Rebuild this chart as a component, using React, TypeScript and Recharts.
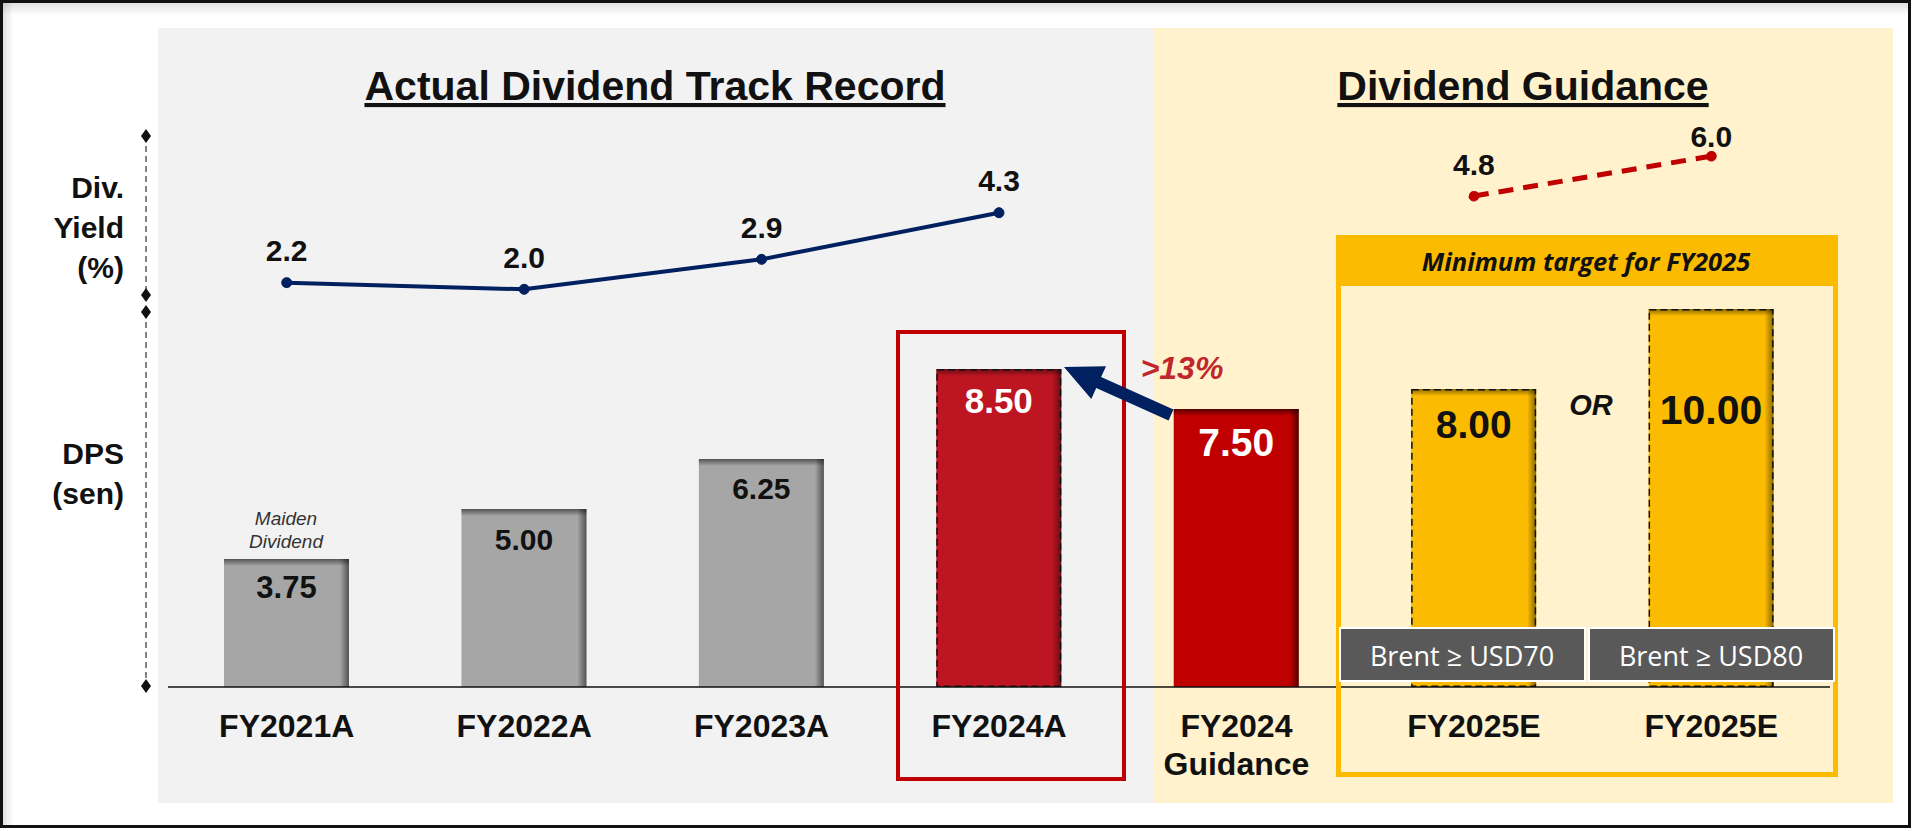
import React from "react";
import {
  ComposedChart,
  Bar,
  Line,
  XAxis,
  YAxis,
  LabelList,
} from "recharts";

const categories = [
  "FY2021A",
  "FY2022A",
  "FY2023A",
  "FY2024A",
  "FY2024\nGuidance",
  "FY2025E",
  "FY2025E",
];
const dps = [3.75, 5.0, 6.25, 8.5, 7.5, 8.0, 10.0];
const yieldActual = [2.2, 2.0, 2.9, 4.3, null, null, null];
const yieldGuidance = [null, null, null, null, null, 4.8, 6.0];

const data = categories.map((c, i) => ({
  id: `c${i}`,
  label: c,
  dps: dps[i],
  yld: yieldActual[i],
  yldG: yieldGuidance[i],
}));

const FONT = "'Liberation Sans', Arial, Helvetica, sans-serif";
const CALIBRI = "'Open Sans', 'Noto Sans', sans-serif";
const NAVY = "#002060";
const RED = "#c00000";
const GOLD = "#fbbb00";

// look of each bar (same order as categories)
const barStyles = [
  { fill: "#a6a6a6", shade: 0.5, dashed: false, text: "#111", size: 31, dy: 28 },
  { fill: "#a6a6a6", shade: 0.5, dashed: false, text: "#111", size: 30, dy: 30 },
  { fill: "#a6a6a6", shade: 0.5, dashed: false, text: "#111", size: 30, dy: 29 },
  { fill: "#bd1622", shade: 0.45, dashed: true, text: "#fff", size: 35, dy: 31 },
  { fill: "#c00000", shade: 0.55, dashed: false, text: "#fff", size: 39, dy: 33 },
  { fill: GOLD, shade: 0.45, dashed: true, text: "#111", size: 39, dy: 35 },
  { fill: GOLD, shade: 0.45, dashed: true, text: "#111", size: 41, dy: 101 },
];

const BarShape = (props: any) => {
  const { x, y, width, height, index, payload } = props;
  const s = barStyles[index];
  const id = `bs${index}`;
  return (
    <g>
      <defs>
        <linearGradient id={`${id}r`} x1="0" y1="0" x2="1" y2="0">
          <stop offset="0" stopColor="#000" stopOpacity={0} />
          <stop offset="1" stopColor="#000" stopOpacity={s.shade} />
        </linearGradient>
        <linearGradient id={`${id}t`} x1="0" y1="0" x2="0" y2="1">
          <stop offset="0" stopColor="#000" stopOpacity={s.shade} />
          <stop offset="1" stopColor="#000" stopOpacity={0} />
        </linearGradient>
      </defs>
      <rect x={x} y={y} width={width} height={height} fill={s.fill} />
      <rect x={x + width - 9} y={y} width={9} height={height} fill={`url(#${id}r)`} />
      <rect x={x} y={y} width={width} height={7} fill={`url(#${id}t)`} />
      {s.dashed && (
        <rect
          x={x + 0.75}
          y={y + 0.75}
          width={width - 1.5}
          height={height - 1.5}
          fill="none"
          stroke="#111"
          strokeWidth={1.5}
          strokeDasharray="7 4"
        />
      )}
      <text
        x={x + width / 2}
        y={y + s.dy}
        textAnchor="middle"
        dominantBaseline="central"
        fontFamily={FONT}
        fontWeight="bold"
        fontSize={s.size}
        fill={s.text}
      >
        {payload.dps.toFixed(2)}
      </text>
    </g>
  );
};

const YieldLabel = (props: any) => {
  const { x, y, value, index } = props;
  if (value == null || x == null) return null;
  const dy = index === 6 ? 20 : 32;
  return (
    <text
      x={x}
      y={y - dy}
      textAnchor="middle"
      dominantBaseline="central"
      fontFamily={FONT}
      fontWeight="bold"
      fontSize={30}
      fill="#111"
    >
      {Number(value).toFixed(1)}
    </text>
  );
};

const CatTick = (props: any) => {
  const { x, y, payload } = props;
  const lines = String(categories[payload.index] ?? "").split("\n");
  return (
    <g>
      {lines.map((l, i) => (
        <text
          key={i}
          x={x}
          y={y + 39 + i * 38}
          textAnchor="middle"
          dominantBaseline="central"
          fontFamily={FONT}
          fontWeight="bold"
          fontSize={32}
          fill="#111"
        >
          {l}
        </text>
      ))}
    </g>
  );
};

const Diamond = ({ cx, cy }: { cx: number; cy: number }) => (
  <polygon
    points={`${cx},${cy - 7} ${cx + 5},${cy} ${cx},${cy + 7} ${cx - 5},${cy}`}
    fill="#111"
  />
);

const arrowPoints = () => {
  const T = [1064, 367];
  const S = [1171, 415];
  const dx = T[0] - S[0];
  const dy = T[1] - S[1];
  const len = Math.hypot(dx, dy);
  const u = [dx / len, dy / len];
  const n = [-u[1], u[0]];
  const B = [T[0] - u[0] * 38, T[1] - u[1] * 38];
  const p = (c: number[], k: number) => `${c[0] + n[0] * k},${c[1] + n[1] * k}`;
  return [
    `${T[0]},${T[1]}`,
    p(B, 18),
    p(B, 6),
    p(S, 6),
    p(S, -6),
    p(B, -6),
    p(B, -18),
  ].join(" ");
};

export default function App() {
  return (
    <div
      style={{
        position: "absolute",
        left: 0,
        top: 0,
        width: 1916,
        height: 831,
        background: "#fff",
        overflow: "hidden",
      }}
    >
      <svg width={1916} height={831} style={{ position: "absolute", left: 0, top: 0 }}>
        <defs>
          <linearGradient id="topShadow" x1="0" y1="0" x2="0" y2="1">
            <stop offset="0" stopColor="#000" stopOpacity={0.12} />
            <stop offset="1" stopColor="#000" stopOpacity={0} />
          </linearGradient>
          <linearGradient id="leftShadow" x1="0" y1="0" x2="1" y2="0">
            <stop offset="0" stopColor="#000" stopOpacity={0.12} />
            <stop offset="1" stopColor="#000" stopOpacity={0} />
          </linearGradient>
        </defs>
        <rect x={0} y={0} width={1916} height={831} fill="#fff" />
        <rect x={3} y={3} width={1905} height={12} fill="url(#topShadow)" />
        <rect x={3} y={3} width={10} height={822} fill="url(#leftShadow)" />
        <rect x={158} y={28} width={996} height={775} fill="#f2f2f2" />
        <rect x={1154} y={28} width={739} height={775} fill="#fff2cc" />
        <rect x={1.5} y={1.5} width={1908} height={825} fill="none" stroke="#111" strokeWidth={3} />
      </svg>

      <div style={{ position: "absolute", left: 0, top: 0 }}>
        <ComposedChart
          width={1916}
          height={831}
          data={data}
          margin={{ top: 127, right: 86, bottom: 44, left: 168 }}
        >
          <XAxis
            dataKey="id"
            height={100}
            tickLine={false}
            tickSize={0}
            tickMargin={0}
            axisLine={{ stroke: "#111", strokeWidth: 1.5 }}
            tick={<CatTick />}
            interval={0}
          />
          <YAxis yAxisId="dps" hide domain={[0.55, 14.55]} allowDataOverflow />
          <YAxis yAxisId="yld" hide domain={[-9.943, 6.874]} allowDataOverflow />
          <Bar
            yAxisId="dps"
            dataKey="dps"
            barSize={125}
            shape={<BarShape />}
            isAnimationActive={false}
          />
          <Line
            yAxisId="yld"
            dataKey="yld"
            type="linear"
            stroke={NAVY}
            strokeWidth={4}
            dot={{ r: 5, fill: NAVY, stroke: NAVY, strokeWidth: 1 }}
            isAnimationActive={false}
          >
            <LabelList dataKey="yld" content={<YieldLabel />} />
          </Line>
          <Line
            yAxisId="yld"
            dataKey="yldG"
            type="linear"
            stroke={RED}
            strokeWidth={5}
            strokeDasharray="15 10"
            dot={{ r: 5, fill: RED, stroke: RED, strokeWidth: 1 }}
            isAnimationActive={false}
          >
            <LabelList dataKey="yldG" content={<YieldLabel />} />
          </Line>
        </ComposedChart>
      </div>

      <svg
        width={1916}
        height={831}
        style={{ position: "absolute", left: 0, top: 0, pointerEvents: "none" }}
      >
        {/* section titles */}
        <text
          x={655}
          y={100}
          textAnchor="middle"
          fontFamily={FONT}
          fontWeight="bold"
          fontSize={41}
          fill="#111"
          style={{ textDecoration: "underline" }}
        >
          Actual Dividend Track Record
        </text>
        <text
          x={1523}
          y={100}
          textAnchor="middle"
          fontFamily={FONT}
          fontWeight="bold"
          fontSize={41}
          fill="#111"
          style={{ textDecoration: "underline" }}
        >
          Dividend Guidance
        </text>

        {/* left side labels */}
        {[
          ["Div.", 198],
          ["Yield", 238],
          ["(%)", 278],
          ["DPS", 464],
          ["(sen)", 504],
        ].map(([t, yy]) => (
          <text
            key={t as string}
            x={124}
            y={yy as number}
            textAnchor="end"
            fontFamily={FONT}
            fontWeight="bold"
            fontSize={30}
            fill="#111"
          >
            {t}
          </text>
        ))}
        <line x1={146} y1={136} x2={146} y2={295} stroke="#333" strokeWidth={1.2} strokeDasharray="6 4" />
        <line x1={146} y1={312} x2={146} y2={686} stroke="#333" strokeWidth={1.2} strokeDasharray="6 4" />
        <Diamond cx={146} cy={136} />
        <Diamond cx={146} cy={295} />
        <Diamond cx={146} cy={312} />
        <Diamond cx={146} cy={686} />

        {/* maiden dividend note */}
        <text x={286} y={518} textAnchor="middle" dominantBaseline="central" fontFamily={FONT} fontStyle="italic" fontSize={19} fill="#333">
          Maiden
        </text>
        <text x={286} y={541} textAnchor="middle" dominantBaseline="central" fontFamily={FONT} fontStyle="italic" fontSize={19} fill="#333">
          Dividend
        </text>

        {/* FY2024A highlight */}
        <rect x={898} y={332} width={226} height={447} fill="none" stroke={RED} strokeWidth={4} />

        {/* growth arrow */}
        <polygon points={arrowPoints()} fill={NAVY} />
        <text
          x={1182}
          y={368}
          textAnchor="middle"
          dominantBaseline="central"
          fontFamily={FONT}
          fontWeight="bold"
          fontStyle="italic"
          fontSize={32}
          fill="#c0272d"
        >
          &gt;13%
        </text>

        {/* FY2025 target box */}
        <rect x={1338.5} y={237.5} width={497} height={537} fill="none" stroke={GOLD} strokeWidth={5} />
        <rect x={1336} y={235} width={502} height={51} fill={GOLD} />
        <text
          x={1586}
          y={261}
          textAnchor="middle"
          dominantBaseline="central"
          fontFamily={CALIBRI}
          fontWeight="bold"
          fontStyle="italic"
          fontSize={25.5}
          fill="#111"
        >
          Minimum target for FY2025
        </text>
        <text
          x={1591}
          y={405}
          textAnchor="middle"
          dominantBaseline="central"
          fontFamily={FONT}
          fontWeight="bold"
          fontStyle="italic"
          fontSize={29}
          fill="#111"
        >
          OR
        </text>

        {/* oil price conditions */}
        <rect x={1340} y={628} width={245} height={53} fill="#595959" stroke="#fff" strokeWidth={2} />
        <rect x={1589} y={628} width={245} height={53} fill="#595959" stroke="#fff" strokeWidth={2} />
        <text x={1462} y={655} textAnchor="middle" dominantBaseline="central" fontFamily={CALIBRI} fontSize={27} fill="#fff">
          Brent ≥ USD70
        </text>
        <text x={1711} y={655} textAnchor="middle" dominantBaseline="central" fontFamily={CALIBRI} fontSize={27} fill="#fff">
          Brent ≥ USD80
        </text>
      </svg>
    </div>
  );
}
